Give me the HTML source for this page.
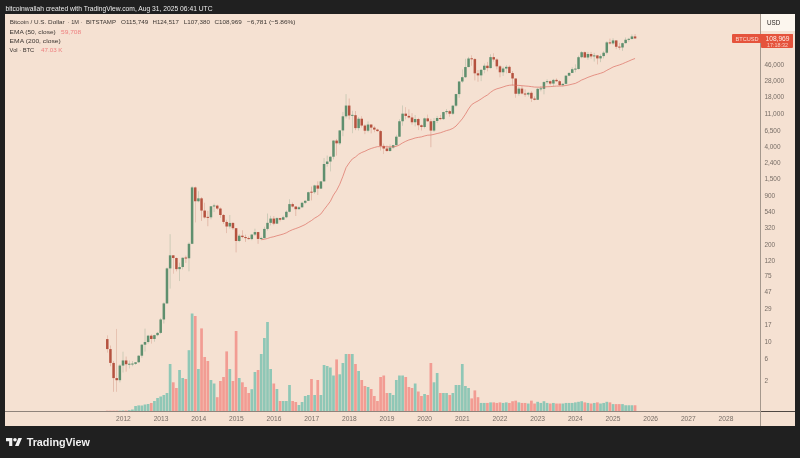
<!DOCTYPE html>
<html><head><meta charset="utf-8"><title>Bitcoin / U.S. Dollar</title>
<style>
html,body{margin:0;padding:0}
body{width:800px;height:458px;background:#202020;position:relative;overflow:hidden;font-family:"Liberation Sans",sans-serif}
#chart{position:absolute;left:5.3px;top:14.2px;width:789.4px;height:412.3px;background:#f5e1d2;overflow:hidden}
#vax{position:absolute;left:755.2px;top:0;width:1px;height:412px;background:#a5988d}
#hax{position:absolute;left:0;top:397.0px;width:790px;height:1px;background:#8f837b}
#hax2{position:absolute;left:755.2px;top:397.0px;width:35px;height:1px;background:#4f4742}
#usd{position:absolute;left:756.2px;top:0;width:34px;height:17px;background:#fcf6ee}
#lab{position:absolute;left:726.7px;top:20.1px;width:61px;height:8.4px;background:#e5533c;border-radius:1px}
#lab2{position:absolute;left:755.7px;top:20.1px;width:32px;height:14px;background:#e5533c;border-radius:0 1px 1px 1px}
svg{position:absolute;left:0;top:0;font-family:"Liberation Sans",sans-serif}
</style></head><body>
<div id="chart">
<div id="hax"></div><div id="hax2"></div><div id="vax"></div>
<div id="usd"></div>
<div id="lab"></div><div id="lab2"></div>
</div>
<svg width="800" height="458" viewBox="0 0 800 458">
<g id="series">
<rect x="105.94" y="410.70" width="2.7" height="0.30" fill="#f29c93"/>
<rect x="109.08" y="410.70" width="2.7" height="0.30" fill="#f29c93"/>
<rect x="112.23" y="410.70" width="2.7" height="0.30" fill="#f29c93"/>
<rect x="115.37" y="410.70" width="2.7" height="0.30" fill="#f29c93"/>
<rect x="118.51" y="410.70" width="2.7" height="0.30" fill="#8fc7b6"/>
<rect x="121.65" y="410.50" width="2.7" height="0.50" fill="#8fc7b6"/>
<rect x="124.79" y="410.50" width="2.7" height="0.50" fill="#f29c93"/>
<rect x="127.93" y="410.20" width="2.7" height="0.80" fill="#8fc7b6"/>
<rect x="131.07" y="409.50" width="2.7" height="1.50" fill="#8fc7b6"/>
<rect x="134.22" y="406.00" width="2.7" height="5.00" fill="#8fc7b6"/>
<rect x="137.36" y="405.40" width="2.7" height="5.60" fill="#8fc7b6"/>
<rect x="140.50" y="405.50" width="2.7" height="5.50" fill="#8fc7b6"/>
<rect x="143.64" y="404.50" width="2.7" height="6.50" fill="#8fc7b6"/>
<rect x="146.78" y="404.00" width="2.7" height="7.00" fill="#8fc7b6"/>
<rect x="149.92" y="403.00" width="2.7" height="8.00" fill="#f29c93"/>
<rect x="153.06" y="401.00" width="2.7" height="10.00" fill="#8fc7b6"/>
<rect x="156.21" y="398.00" width="2.7" height="13.00" fill="#8fc7b6"/>
<rect x="159.35" y="396.50" width="2.7" height="14.50" fill="#8fc7b6"/>
<rect x="162.49" y="395.00" width="2.7" height="16.00" fill="#8fc7b6"/>
<rect x="165.63" y="393.00" width="2.7" height="18.00" fill="#8fc7b6"/>
<rect x="168.77" y="364.00" width="2.7" height="47.00" fill="#8fc7b6"/>
<rect x="171.91" y="382.30" width="2.7" height="28.70" fill="#f29c93"/>
<rect x="175.06" y="388.00" width="2.7" height="23.00" fill="#f29c93"/>
<rect x="178.20" y="370.00" width="2.7" height="41.00" fill="#8fc7b6"/>
<rect x="181.34" y="378.00" width="2.7" height="33.00" fill="#8fc7b6"/>
<rect x="184.48" y="379.00" width="2.7" height="32.00" fill="#f29c93"/>
<rect x="187.62" y="350.20" width="2.7" height="60.80" fill="#8fc7b6"/>
<rect x="190.76" y="313.50" width="2.7" height="97.50" fill="#8fc7b6"/>
<rect x="193.90" y="316.00" width="2.7" height="95.00" fill="#f29c93"/>
<rect x="197.05" y="369.00" width="2.7" height="42.00" fill="#8fc7b6"/>
<rect x="200.19" y="328.40" width="2.7" height="82.60" fill="#f29c93"/>
<rect x="203.33" y="357.00" width="2.7" height="54.00" fill="#f29c93"/>
<rect x="206.47" y="361.00" width="2.7" height="50.00" fill="#f29c93"/>
<rect x="209.61" y="380.00" width="2.7" height="31.00" fill="#8fc7b6"/>
<rect x="212.75" y="383.50" width="2.7" height="27.50" fill="#8fc7b6"/>
<rect x="215.90" y="397.20" width="2.7" height="13.80" fill="#f29c93"/>
<rect x="219.04" y="381.00" width="2.7" height="30.00" fill="#f29c93"/>
<rect x="222.18" y="377.00" width="2.7" height="34.00" fill="#f29c93"/>
<rect x="225.32" y="351.40" width="2.7" height="59.60" fill="#f29c93"/>
<rect x="228.46" y="369.00" width="2.7" height="42.00" fill="#8fc7b6"/>
<rect x="231.60" y="381.00" width="2.7" height="30.00" fill="#f29c93"/>
<rect x="234.74" y="331.00" width="2.7" height="80.00" fill="#f29c93"/>
<rect x="237.89" y="378.00" width="2.7" height="33.00" fill="#8fc7b6"/>
<rect x="241.03" y="382.30" width="2.7" height="28.70" fill="#f29c93"/>
<rect x="244.17" y="387.00" width="2.7" height="24.00" fill="#f29c93"/>
<rect x="247.31" y="393.00" width="2.7" height="18.00" fill="#f29c93"/>
<rect x="250.45" y="389.20" width="2.7" height="21.80" fill="#8fc7b6"/>
<rect x="253.59" y="372.00" width="2.7" height="39.00" fill="#8fc7b6"/>
<rect x="256.73" y="370.00" width="2.7" height="41.00" fill="#f29c93"/>
<rect x="259.88" y="354.00" width="2.7" height="57.00" fill="#8fc7b6"/>
<rect x="263.02" y="338.00" width="2.7" height="73.00" fill="#8fc7b6"/>
<rect x="266.16" y="322.00" width="2.7" height="89.00" fill="#8fc7b6"/>
<rect x="269.30" y="369.00" width="2.7" height="42.00" fill="#8fc7b6"/>
<rect x="272.44" y="383.50" width="2.7" height="27.50" fill="#f29c93"/>
<rect x="275.58" y="389.00" width="2.7" height="22.00" fill="#8fc7b6"/>
<rect x="278.73" y="401.00" width="2.7" height="10.00" fill="#f29c93"/>
<rect x="281.87" y="401.00" width="2.7" height="10.00" fill="#8fc7b6"/>
<rect x="285.01" y="401.00" width="2.7" height="10.00" fill="#8fc7b6"/>
<rect x="288.15" y="385.00" width="2.7" height="26.00" fill="#8fc7b6"/>
<rect x="291.29" y="401.00" width="2.7" height="10.00" fill="#f29c93"/>
<rect x="294.43" y="402.00" width="2.7" height="9.00" fill="#f29c93"/>
<rect x="297.57" y="405.00" width="2.7" height="6.00" fill="#8fc7b6"/>
<rect x="300.72" y="402.00" width="2.7" height="9.00" fill="#8fc7b6"/>
<rect x="303.86" y="396.00" width="2.7" height="15.00" fill="#8fc7b6"/>
<rect x="307.00" y="395.00" width="2.7" height="16.00" fill="#8fc7b6"/>
<rect x="310.14" y="379.00" width="2.7" height="32.00" fill="#f29c93"/>
<rect x="313.28" y="395.00" width="2.7" height="16.00" fill="#8fc7b6"/>
<rect x="316.42" y="380.00" width="2.7" height="31.00" fill="#f29c93"/>
<rect x="319.56" y="395.00" width="2.7" height="16.00" fill="#8fc7b6"/>
<rect x="322.71" y="365.00" width="2.7" height="46.00" fill="#8fc7b6"/>
<rect x="325.85" y="366.00" width="2.7" height="45.00" fill="#8fc7b6"/>
<rect x="328.99" y="367.50" width="2.7" height="43.50" fill="#8fc7b6"/>
<rect x="332.13" y="375.50" width="2.7" height="35.50" fill="#8fc7b6"/>
<rect x="335.27" y="359.40" width="2.7" height="51.60" fill="#f29c93"/>
<rect x="338.41" y="374.30" width="2.7" height="36.70" fill="#8fc7b6"/>
<rect x="341.55" y="363.00" width="2.7" height="48.00" fill="#8fc7b6"/>
<rect x="344.70" y="354.00" width="2.7" height="57.00" fill="#8fc7b6"/>
<rect x="347.84" y="354.00" width="2.7" height="57.00" fill="#f29c93"/>
<rect x="350.98" y="354.00" width="2.7" height="57.00" fill="#8fc7b6"/>
<rect x="354.12" y="364.00" width="2.7" height="47.00" fill="#f29c93"/>
<rect x="357.26" y="371.00" width="2.7" height="40.00" fill="#8fc7b6"/>
<rect x="360.40" y="380.00" width="2.7" height="31.00" fill="#f29c93"/>
<rect x="363.55" y="386.00" width="2.7" height="25.00" fill="#f29c93"/>
<rect x="366.69" y="387.00" width="2.7" height="24.00" fill="#8fc7b6"/>
<rect x="369.83" y="389.00" width="2.7" height="22.00" fill="#f29c93"/>
<rect x="372.97" y="396.00" width="2.7" height="15.00" fill="#f29c93"/>
<rect x="376.11" y="401.00" width="2.7" height="10.00" fill="#f29c93"/>
<rect x="379.25" y="377.00" width="2.7" height="34.00" fill="#f29c93"/>
<rect x="382.39" y="375.50" width="2.7" height="35.50" fill="#f29c93"/>
<rect x="385.54" y="393.00" width="2.7" height="18.00" fill="#f29c93"/>
<rect x="388.68" y="393.00" width="2.7" height="18.00" fill="#8fc7b6"/>
<rect x="391.82" y="395.00" width="2.7" height="16.00" fill="#8fc7b6"/>
<rect x="394.96" y="380.00" width="2.7" height="31.00" fill="#8fc7b6"/>
<rect x="398.10" y="375.50" width="2.7" height="35.50" fill="#8fc7b6"/>
<rect x="401.24" y="375.50" width="2.7" height="35.50" fill="#8fc7b6"/>
<rect x="404.38" y="377.00" width="2.7" height="34.00" fill="#f29c93"/>
<rect x="407.53" y="387.00" width="2.7" height="24.00" fill="#f29c93"/>
<rect x="410.67" y="388.00" width="2.7" height="23.00" fill="#f29c93"/>
<rect x="413.81" y="383.50" width="2.7" height="27.50" fill="#8fc7b6"/>
<rect x="416.95" y="391.50" width="2.7" height="19.50" fill="#f29c93"/>
<rect x="420.09" y="396.00" width="2.7" height="15.00" fill="#f29c93"/>
<rect x="423.23" y="394.00" width="2.7" height="17.00" fill="#8fc7b6"/>
<rect x="426.38" y="395.00" width="2.7" height="16.00" fill="#f29c93"/>
<rect x="429.52" y="363.00" width="2.7" height="48.00" fill="#f29c93"/>
<rect x="432.66" y="382.30" width="2.7" height="28.70" fill="#8fc7b6"/>
<rect x="435.80" y="373.00" width="2.7" height="38.00" fill="#8fc7b6"/>
<rect x="438.94" y="393.00" width="2.7" height="18.00" fill="#f29c93"/>
<rect x="442.08" y="393.00" width="2.7" height="18.00" fill="#8fc7b6"/>
<rect x="445.22" y="393.00" width="2.7" height="18.00" fill="#8fc7b6"/>
<rect x="448.37" y="395.00" width="2.7" height="16.00" fill="#f29c93"/>
<rect x="451.51" y="393.00" width="2.7" height="18.00" fill="#8fc7b6"/>
<rect x="454.65" y="385.00" width="2.7" height="26.00" fill="#8fc7b6"/>
<rect x="457.79" y="385.00" width="2.7" height="26.00" fill="#8fc7b6"/>
<rect x="460.93" y="364.00" width="2.7" height="47.00" fill="#8fc7b6"/>
<rect x="464.07" y="386.00" width="2.7" height="25.00" fill="#8fc7b6"/>
<rect x="467.21" y="388.00" width="2.7" height="23.00" fill="#8fc7b6"/>
<rect x="470.36" y="398.40" width="2.7" height="12.60" fill="#f29c93"/>
<rect x="473.50" y="390.40" width="2.7" height="20.60" fill="#f29c93"/>
<rect x="476.64" y="397.20" width="2.7" height="13.80" fill="#f29c93"/>
<rect x="479.78" y="402.95" width="2.7" height="8.05" fill="#8fc7b6"/>
<rect x="482.92" y="402.95" width="2.7" height="8.05" fill="#8fc7b6"/>
<rect x="486.06" y="402.95" width="2.7" height="8.05" fill="#f29c93"/>
<rect x="489.21" y="402.38" width="2.7" height="8.62" fill="#8fc7b6"/>
<rect x="492.35" y="402.38" width="2.7" height="8.62" fill="#f29c93"/>
<rect x="495.49" y="402.95" width="2.7" height="8.05" fill="#f29c93"/>
<rect x="498.63" y="402.38" width="2.7" height="8.62" fill="#f29c93"/>
<rect x="501.77" y="402.95" width="2.7" height="8.05" fill="#8fc7b6"/>
<rect x="504.91" y="402.38" width="2.7" height="8.62" fill="#8fc7b6"/>
<rect x="508.05" y="402.95" width="2.7" height="8.05" fill="#f29c93"/>
<rect x="511.20" y="401.23" width="2.7" height="9.77" fill="#f29c93"/>
<rect x="514.34" y="400.65" width="2.7" height="10.35" fill="#f29c93"/>
<rect x="517.48" y="402.38" width="2.7" height="8.62" fill="#8fc7b6"/>
<rect x="520.62" y="402.95" width="2.7" height="8.05" fill="#f29c93"/>
<rect x="523.76" y="402.95" width="2.7" height="8.05" fill="#f29c93"/>
<rect x="526.90" y="403.52" width="2.7" height="7.47" fill="#8fc7b6"/>
<rect x="530.04" y="400.65" width="2.7" height="10.35" fill="#f29c93"/>
<rect x="533.19" y="403.52" width="2.7" height="7.47" fill="#f29c93"/>
<rect x="536.33" y="401.80" width="2.7" height="9.20" fill="#8fc7b6"/>
<rect x="539.47" y="402.95" width="2.7" height="8.05" fill="#8fc7b6"/>
<rect x="542.61" y="401.23" width="2.7" height="9.77" fill="#8fc7b6"/>
<rect x="545.75" y="402.95" width="2.7" height="8.05" fill="#8fc7b6"/>
<rect x="548.89" y="403.52" width="2.7" height="7.47" fill="#f29c93"/>
<rect x="552.04" y="402.95" width="2.7" height="8.05" fill="#8fc7b6"/>
<rect x="555.18" y="403.52" width="2.7" height="7.47" fill="#f29c93"/>
<rect x="558.32" y="403.52" width="2.7" height="7.47" fill="#f29c93"/>
<rect x="561.46" y="403.52" width="2.7" height="7.47" fill="#8fc7b6"/>
<rect x="564.60" y="402.95" width="2.7" height="8.05" fill="#8fc7b6"/>
<rect x="567.74" y="402.95" width="2.7" height="8.05" fill="#8fc7b6"/>
<rect x="570.88" y="402.95" width="2.7" height="8.05" fill="#8fc7b6"/>
<rect x="574.03" y="402.38" width="2.7" height="8.62" fill="#8fc7b6"/>
<rect x="577.17" y="401.80" width="2.7" height="9.20" fill="#8fc7b6"/>
<rect x="580.31" y="401.23" width="2.7" height="9.77" fill="#8fc7b6"/>
<rect x="583.45" y="402.38" width="2.7" height="8.62" fill="#f29c93"/>
<rect x="586.59" y="402.95" width="2.7" height="8.05" fill="#8fc7b6"/>
<rect x="589.73" y="403.52" width="2.7" height="7.47" fill="#f29c93"/>
<rect x="592.88" y="402.95" width="2.7" height="8.05" fill="#8fc7b6"/>
<rect x="596.02" y="402.38" width="2.7" height="8.62" fill="#f29c93"/>
<rect x="599.16" y="403.52" width="2.7" height="7.47" fill="#8fc7b6"/>
<rect x="602.30" y="402.95" width="2.7" height="8.05" fill="#8fc7b6"/>
<rect x="605.44" y="401.80" width="2.7" height="9.20" fill="#8fc7b6"/>
<rect x="608.58" y="402.38" width="2.7" height="8.62" fill="#f29c93"/>
<rect x="611.72" y="404.10" width="2.7" height="6.90" fill="#8fc7b6"/>
<rect x="614.87" y="404.10" width="2.7" height="6.90" fill="#f29c93"/>
<rect x="618.01" y="404.10" width="2.7" height="6.90" fill="#f29c93"/>
<rect x="621.15" y="404.10" width="2.7" height="6.90" fill="#8fc7b6"/>
<rect x="624.29" y="405.25" width="2.7" height="5.75" fill="#8fc7b6"/>
<rect x="627.43" y="405.25" width="2.7" height="5.75" fill="#8fc7b6"/>
<rect x="630.57" y="405.25" width="2.7" height="5.75" fill="#8fc7b6"/>
<rect x="633.71" y="405.25" width="2.7" height="5.75" fill="#f29c93"/>
<line x1="107.29" x2="107.29" y1="335.34" y2="352.61" stroke="#b5523f" stroke-width="0.5" opacity="0.55"/>
<rect x="106.04" y="339.10" width="2.5" height="9.98" fill="#b5523f"/>
<line x1="110.43" x2="110.43" y1="345.53" y2="366.27" stroke="#b5523f" stroke-width="0.5" opacity="0.55"/>
<rect x="109.18" y="349.09" width="2.5" height="13.83" fill="#b5523f"/>
<line x1="113.58" x2="113.58" y1="361.06" y2="391.80" stroke="#b5523f" stroke-width="0.5" opacity="0.55"/>
<rect x="112.33" y="362.92" width="2.5" height="15.17" fill="#b5523f"/>
<line x1="116.72" x2="116.72" y1="328.90" y2="391.80" stroke="#b5523f" stroke-width="0.5" opacity="0.55"/>
<rect x="115.47" y="378.09" width="2.5" height="2.10" fill="#b5523f"/>
<line x1="119.86" x2="119.86" y1="364.22" y2="382.43" stroke="#5f8f6e" stroke-width="0.5" opacity="0.55"/>
<rect x="118.61" y="365.57" width="2.5" height="14.61" fill="#5f8f6e"/>
<line x1="123.00" x2="123.00" y1="351.69" y2="372.49" stroke="#5f8f6e" stroke-width="0.5" opacity="0.55"/>
<rect x="121.75" y="360.46" width="2.5" height="5.12" fill="#5f8f6e"/>
<line x1="126.14" x2="126.14" y1="356.56" y2="371.65" stroke="#b5523f" stroke-width="0.5" opacity="0.55"/>
<rect x="124.89" y="360.46" width="2.5" height="3.76" fill="#b5523f"/>
<line x1="129.28" x2="129.28" y1="360.46" y2="368.47" stroke="#5f8f6e" stroke-width="0.5" opacity="0.55"/>
<rect x="128.03" y="363.72" width="2.5" height="1.00" fill="#5f8f6e"/>
<line x1="132.42" x2="132.42" y1="361.06" y2="366.27" stroke="#5f8f6e" stroke-width="0.5" opacity="0.55"/>
<rect x="131.17" y="363.55" width="2.5" height="1.00" fill="#5f8f6e"/>
<line x1="135.57" x2="135.57" y1="362.28" y2="364.89" stroke="#5f8f6e" stroke-width="0.5" opacity="0.55"/>
<rect x="134.32" y="362.28" width="2.5" height="1.60" fill="#5f8f6e"/>
<line x1="138.71" x2="138.71" y1="355.22" y2="362.92" stroke="#5f8f6e" stroke-width="0.5" opacity="0.55"/>
<rect x="137.46" y="355.70" width="2.5" height="6.58" fill="#5f8f6e"/>
<line x1="141.85" x2="141.85" y1="344.00" y2="357.71" stroke="#5f8f6e" stroke-width="0.5" opacity="0.55"/>
<rect x="140.60" y="344.68" width="2.5" height="11.02" fill="#5f8f6e"/>
<line x1="144.99" x2="144.99" y1="328.61" y2="351.60" stroke="#5f8f6e" stroke-width="0.5" opacity="0.55"/>
<rect x="143.74" y="342.02" width="2.5" height="2.66" fill="#5f8f6e"/>
<line x1="148.13" x2="148.13" y1="334.89" y2="343.66" stroke="#5f8f6e" stroke-width="0.5" opacity="0.55"/>
<rect x="146.88" y="335.67" width="2.5" height="6.36" fill="#5f8f6e"/>
<line x1="151.27" x2="151.27" y1="334.38" y2="343.66" stroke="#b5523f" stroke-width="0.5" opacity="0.55"/>
<rect x="150.02" y="335.67" width="2.5" height="3.31" fill="#b5523f"/>
<line x1="154.41" x2="154.41" y1="334.63" y2="341.71" stroke="#5f8f6e" stroke-width="0.5" opacity="0.55"/>
<rect x="153.16" y="335.15" width="2.5" height="3.83" fill="#5f8f6e"/>
<line x1="157.56" x2="157.56" y1="331.95" y2="336.20" stroke="#5f8f6e" stroke-width="0.5" opacity="0.55"/>
<rect x="156.31" y="332.90" width="2.5" height="2.25" fill="#5f8f6e"/>
<line x1="160.70" x2="160.70" y1="317.90" y2="334.13" stroke="#5f8f6e" stroke-width="0.5" opacity="0.55"/>
<rect x="159.45" y="319.46" width="2.5" height="13.44" fill="#5f8f6e"/>
<line x1="163.84" x2="163.84" y1="302.36" y2="323.54" stroke="#5f8f6e" stroke-width="0.5" opacity="0.55"/>
<rect x="162.59" y="303.41" width="2.5" height="16.05" fill="#5f8f6e"/>
<line x1="166.98" x2="166.98" y1="267.48" y2="303.90" stroke="#5f8f6e" stroke-width="0.5" opacity="0.55"/>
<rect x="165.73" y="268.41" width="2.5" height="35.00" fill="#5f8f6e"/>
<line x1="170.12" x2="170.12" y1="234.20" y2="288.61" stroke="#5f8f6e" stroke-width="0.5" opacity="0.55"/>
<rect x="168.87" y="255.33" width="2.5" height="13.08" fill="#5f8f6e"/>
<line x1="173.26" x2="173.26" y1="255.10" y2="273.72" stroke="#b5523f" stroke-width="0.5" opacity="0.55"/>
<rect x="172.01" y="255.33" width="2.5" height="2.68" fill="#b5523f"/>
<line x1="176.41" x2="176.41" y1="257.51" y2="271.34" stroke="#b5523f" stroke-width="0.5" opacity="0.55"/>
<rect x="175.16" y="258.01" width="2.5" height="11.11" fill="#b5523f"/>
<line x1="179.55" x2="179.55" y1="262.65" y2="281.09" stroke="#5f8f6e" stroke-width="0.5" opacity="0.55"/>
<rect x="178.30" y="267.04" width="2.5" height="2.08" fill="#5f8f6e"/>
<line x1="182.69" x2="182.69" y1="257.51" y2="269.48" stroke="#5f8f6e" stroke-width="0.5" opacity="0.55"/>
<rect x="181.44" y="257.76" width="2.5" height="9.28" fill="#5f8f6e"/>
<line x1="185.83" x2="185.83" y1="255.57" y2="262.95" stroke="#b5523f" stroke-width="0.5" opacity="0.55"/>
<rect x="184.58" y="257.51" width="2.5" height="1.00" fill="#b5523f"/>
<line x1="188.97" x2="188.97" y1="242.37" y2="271.34" stroke="#5f8f6e" stroke-width="0.5" opacity="0.55"/>
<rect x="187.72" y="243.81" width="2.5" height="14.45" fill="#5f8f6e"/>
<line x1="192.11" x2="192.11" y1="186.18" y2="244.14" stroke="#5f8f6e" stroke-width="0.5" opacity="0.55"/>
<rect x="190.86" y="187.41" width="2.5" height="56.40" fill="#5f8f6e"/>
<line x1="195.25" x2="195.25" y1="186.47" y2="222.42" stroke="#b5523f" stroke-width="0.5" opacity="0.55"/>
<rect x="194.00" y="187.41" width="2.5" height="13.84" fill="#b5523f"/>
<line x1="198.40" x2="198.40" y1="191.26" y2="202.25" stroke="#5f8f6e" stroke-width="0.5" opacity="0.55"/>
<rect x="197.15" y="198.36" width="2.5" height="2.89" fill="#5f8f6e"/>
<line x1="201.54" x2="201.54" y1="197.17" y2="220.93" stroke="#b5523f" stroke-width="0.5" opacity="0.55"/>
<rect x="200.29" y="198.36" width="2.5" height="12.20" fill="#b5523f"/>
<line x1="204.68" x2="204.68" y1="202.71" y2="218.57" stroke="#b5523f" stroke-width="0.5" opacity="0.55"/>
<rect x="203.43" y="210.56" width="2.5" height="6.90" fill="#b5523f"/>
<line x1="207.82" x2="207.82" y1="210.86" y2="226.22" stroke="#b5523f" stroke-width="0.5" opacity="0.55"/>
<rect x="206.57" y="216.88" width="2.5" height="1.00" fill="#b5523f"/>
<line x1="210.96" x2="210.96" y1="206.19" y2="219.34" stroke="#5f8f6e" stroke-width="0.5" opacity="0.55"/>
<rect x="209.71" y="206.29" width="2.5" height="11.01" fill="#5f8f6e"/>
<line x1="214.10" x2="214.10" y1="203.65" y2="212.07" stroke="#5f8f6e" stroke-width="0.5" opacity="0.55"/>
<rect x="212.85" y="205.46" width="2.5" height="1.00" fill="#5f8f6e"/>
<line x1="217.25" x2="217.25" y1="204.63" y2="209.97" stroke="#b5523f" stroke-width="0.5" opacity="0.55"/>
<rect x="216.00" y="205.63" width="2.5" height="2.92" fill="#b5523f"/>
<line x1="220.39" x2="220.39" y1="207.46" y2="217.82" stroke="#b5523f" stroke-width="0.5" opacity="0.55"/>
<rect x="219.14" y="208.55" width="2.5" height="6.44" fill="#b5523f"/>
<line x1="223.53" x2="223.53" y1="213.99" y2="223.91" stroke="#b5523f" stroke-width="0.5" opacity="0.55"/>
<rect x="222.28" y="214.99" width="2.5" height="6.93" fill="#b5523f"/>
<line x1="226.67" x2="226.67" y1="219.73" y2="233.12" stroke="#b5523f" stroke-width="0.5" opacity="0.55"/>
<rect x="225.42" y="221.92" width="2.5" height="4.59" fill="#b5523f"/>
<line x1="229.81" x2="229.81" y1="214.99" y2="228.60" stroke="#5f8f6e" stroke-width="0.5" opacity="0.55"/>
<rect x="228.56" y="222.94" width="2.5" height="3.56" fill="#5f8f6e"/>
<line x1="232.95" x2="232.95" y1="222.17" y2="229.86" stroke="#b5523f" stroke-width="0.5" opacity="0.55"/>
<rect x="231.70" y="222.94" width="2.5" height="5.25" fill="#b5523f"/>
<line x1="236.09" x2="236.09" y1="227.99" y2="252.42" stroke="#b5523f" stroke-width="0.5" opacity="0.55"/>
<rect x="234.84" y="228.19" width="2.5" height="12.79" fill="#b5523f"/>
<line x1="239.24" x2="239.24" y1="233.96" y2="242.21" stroke="#5f8f6e" stroke-width="0.5" opacity="0.55"/>
<rect x="237.99" y="235.71" width="2.5" height="5.27" fill="#5f8f6e"/>
<line x1="242.38" x2="242.38" y1="230.29" y2="238.24" stroke="#b5523f" stroke-width="0.5" opacity="0.55"/>
<rect x="241.13" y="235.71" width="2.5" height="1.31" fill="#b5523f"/>
<line x1="245.52" x2="245.52" y1="234.70" y2="241.90" stroke="#b5523f" stroke-width="0.5" opacity="0.55"/>
<rect x="244.27" y="237.01" width="2.5" height="1.09" fill="#b5523f"/>
<line x1="248.66" x2="248.66" y1="236.49" y2="239.51" stroke="#b5523f" stroke-width="0.5" opacity="0.55"/>
<rect x="247.41" y="238.09" width="2.5" height="1.00" fill="#b5523f"/>
<line x1="251.80" x2="251.80" y1="233.96" y2="240.24" stroke="#5f8f6e" stroke-width="0.5" opacity="0.55"/>
<rect x="250.55" y="234.57" width="2.5" height="4.51" fill="#5f8f6e"/>
<line x1="254.94" x2="254.94" y1="228.70" y2="235.96" stroke="#5f8f6e" stroke-width="0.5" opacity="0.55"/>
<rect x="253.69" y="232.07" width="2.5" height="2.50" fill="#5f8f6e"/>
<line x1="258.08" x2="258.08" y1="231.84" y2="243.81" stroke="#b5523f" stroke-width="0.5" opacity="0.55"/>
<rect x="256.83" y="232.07" width="2.5" height="6.86" fill="#b5523f"/>
<line x1="261.23" x2="261.23" y1="236.62" y2="239.80" stroke="#5f8f6e" stroke-width="0.5" opacity="0.55"/>
<rect x="259.98" y="238.02" width="2.5" height="1.00" fill="#5f8f6e"/>
<line x1="264.37" x2="264.37" y1="226.70" y2="238.38" stroke="#5f8f6e" stroke-width="0.5" opacity="0.55"/>
<rect x="263.12" y="228.91" width="2.5" height="9.19" fill="#5f8f6e"/>
<line x1="267.51" x2="267.51" y1="213.53" y2="230.51" stroke="#5f8f6e" stroke-width="0.5" opacity="0.55"/>
<rect x="266.26" y="222.85" width="2.5" height="6.06" fill="#5f8f6e"/>
<line x1="270.65" x2="270.65" y1="215.81" y2="225.46" stroke="#5f8f6e" stroke-width="0.5" opacity="0.55"/>
<rect x="269.40" y="218.57" width="2.5" height="4.28" fill="#5f8f6e"/>
<line x1="273.79" x2="273.79" y1="216.09" y2="225.27" stroke="#b5523f" stroke-width="0.5" opacity="0.55"/>
<rect x="272.54" y="218.57" width="2.5" height="5.07" fill="#b5523f"/>
<line x1="276.93" x2="276.93" y1="217.24" y2="223.91" stroke="#5f8f6e" stroke-width="0.5" opacity="0.55"/>
<rect x="275.68" y="218.12" width="2.5" height="5.52" fill="#5f8f6e"/>
<line x1="280.08" x2="280.08" y1="217.82" y2="221.50" stroke="#b5523f" stroke-width="0.5" opacity="0.55"/>
<rect x="278.83" y="218.12" width="2.5" height="1.61" fill="#b5523f"/>
<line x1="283.22" x2="283.22" y1="215.68" y2="219.88" stroke="#5f8f6e" stroke-width="0.5" opacity="0.55"/>
<rect x="281.97" y="217.24" width="2.5" height="2.49" fill="#5f8f6e"/>
<line x1="286.36" x2="286.36" y1="210.38" y2="218.19" stroke="#5f8f6e" stroke-width="0.5" opacity="0.55"/>
<rect x="285.11" y="211.77" width="2.5" height="5.47" fill="#5f8f6e"/>
<line x1="289.50" x2="289.50" y1="199.27" y2="212.39" stroke="#5f8f6e" stroke-width="0.5" opacity="0.55"/>
<rect x="288.25" y="204.09" width="2.5" height="7.68" fill="#5f8f6e"/>
<line x1="292.64" x2="292.64" y1="202.48" y2="207.46" stroke="#b5523f" stroke-width="0.5" opacity="0.55"/>
<rect x="291.39" y="204.09" width="2.5" height="2.47" fill="#b5523f"/>
<line x1="295.78" x2="295.78" y1="206.24" y2="216.02" stroke="#b5523f" stroke-width="0.5" opacity="0.55"/>
<rect x="294.53" y="206.56" width="2.5" height="2.61" fill="#b5523f"/>
<line x1="298.92" x2="298.92" y1="206.14" y2="209.51" stroke="#5f8f6e" stroke-width="0.5" opacity="0.55"/>
<rect x="297.67" y="207.30" width="2.5" height="1.87" fill="#5f8f6e"/>
<line x1="302.07" x2="302.07" y1="201.79" y2="207.73" stroke="#5f8f6e" stroke-width="0.5" opacity="0.55"/>
<rect x="300.82" y="202.80" width="2.5" height="4.49" fill="#5f8f6e"/>
<line x1="305.21" x2="305.21" y1="200.25" y2="204.14" stroke="#5f8f6e" stroke-width="0.5" opacity="0.55"/>
<rect x="303.96" y="200.81" width="2.5" height="1.99" fill="#5f8f6e"/>
<line x1="308.35" x2="308.35" y1="191.69" y2="200.90" stroke="#5f8f6e" stroke-width="0.5" opacity="0.55"/>
<rect x="307.10" y="192.23" width="2.5" height="8.59" fill="#5f8f6e"/>
<line x1="311.49" x2="311.49" y1="186.55" y2="200.42" stroke="#b5523f" stroke-width="0.5" opacity="0.55"/>
<rect x="310.24" y="191.69" width="2.5" height="1.00" fill="#b5523f"/>
<line x1="314.63" x2="314.63" y1="184.71" y2="193.81" stroke="#5f8f6e" stroke-width="0.5" opacity="0.55"/>
<rect x="313.38" y="185.44" width="2.5" height="6.79" fill="#5f8f6e"/>
<line x1="317.77" x2="317.77" y1="181.33" y2="194.97" stroke="#b5523f" stroke-width="0.5" opacity="0.55"/>
<rect x="316.52" y="185.44" width="2.5" height="3.19" fill="#b5523f"/>
<line x1="320.91" x2="320.91" y1="181.09" y2="188.75" stroke="#5f8f6e" stroke-width="0.5" opacity="0.55"/>
<rect x="319.66" y="181.38" width="2.5" height="7.25" fill="#5f8f6e"/>
<line x1="324.06" x2="324.06" y1="158.05" y2="181.57" stroke="#5f8f6e" stroke-width="0.5" opacity="0.55"/>
<rect x="322.81" y="163.99" width="2.5" height="17.39" fill="#5f8f6e"/>
<line x1="327.20" x2="327.20" y1="155.56" y2="166.64" stroke="#5f8f6e" stroke-width="0.5" opacity="0.55"/>
<rect x="325.95" y="161.54" width="2.5" height="2.45" fill="#5f8f6e"/>
<line x1="330.34" x2="330.34" y1="156.11" y2="171.43" stroke="#5f8f6e" stroke-width="0.5" opacity="0.55"/>
<rect x="329.09" y="156.73" width="2.5" height="4.81" fill="#5f8f6e"/>
<line x1="333.48" x2="333.48" y1="140.28" y2="159.38" stroke="#5f8f6e" stroke-width="0.5" opacity="0.55"/>
<rect x="332.23" y="140.59" width="2.5" height="16.14" fill="#5f8f6e"/>
<line x1="336.62" x2="336.62" y1="138.91" y2="155.67" stroke="#b5523f" stroke-width="0.5" opacity="0.55"/>
<rect x="335.37" y="140.59" width="2.5" height="2.73" fill="#b5523f"/>
<line x1="339.76" x2="339.76" y1="130.32" y2="144.94" stroke="#5f8f6e" stroke-width="0.5" opacity="0.55"/>
<rect x="338.51" y="130.42" width="2.5" height="12.90" fill="#5f8f6e"/>
<line x1="342.90" x2="342.90" y1="111.89" y2="136.21" stroke="#5f8f6e" stroke-width="0.5" opacity="0.55"/>
<rect x="341.65" y="116.31" width="2.5" height="14.11" fill="#5f8f6e"/>
<line x1="346.05" x2="346.05" y1="94.14" y2="118.51" stroke="#5f8f6e" stroke-width="0.5" opacity="0.55"/>
<rect x="344.80" y="105.55" width="2.5" height="10.76" fill="#5f8f6e"/>
<line x1="349.19" x2="349.19" y1="98.50" y2="119.58" stroke="#b5523f" stroke-width="0.5" opacity="0.55"/>
<rect x="347.94" y="105.55" width="2.5" height="9.96" fill="#b5523f"/>
<line x1="352.33" x2="352.33" y1="110.76" y2="133.22" stroke="#5f8f6e" stroke-width="0.5" opacity="0.55"/>
<rect x="351.08" y="114.85" width="2.5" height="1.00" fill="#5f8f6e"/>
<line x1="355.47" x2="355.47" y1="111.04" y2="130.17" stroke="#b5523f" stroke-width="0.5" opacity="0.55"/>
<rect x="354.22" y="115.19" width="2.5" height="12.90" fill="#b5523f"/>
<line x1="358.61" x2="358.61" y1="116.97" y2="130.53" stroke="#5f8f6e" stroke-width="0.5" opacity="0.55"/>
<rect x="357.36" y="118.72" width="2.5" height="9.36" fill="#5f8f6e"/>
<line x1="361.75" x2="361.75" y1="116.18" y2="127.58" stroke="#b5523f" stroke-width="0.5" opacity="0.55"/>
<rect x="360.50" y="118.72" width="2.5" height="6.83" fill="#b5523f"/>
<line x1="364.90" x2="364.90" y1="124.32" y2="134.16" stroke="#b5523f" stroke-width="0.5" opacity="0.55"/>
<rect x="363.65" y="125.56" width="2.5" height="5.17" fill="#b5523f"/>
<line x1="368.04" x2="368.04" y1="121.44" y2="132.40" stroke="#5f8f6e" stroke-width="0.5" opacity="0.55"/>
<rect x="366.79" y="124.53" width="2.5" height="6.20" fill="#5f8f6e"/>
<line x1="371.18" x2="371.18" y1="124.45" y2="133.44" stroke="#b5523f" stroke-width="0.5" opacity="0.55"/>
<rect x="369.93" y="124.53" width="2.5" height="3.09" fill="#b5523f"/>
<line x1="374.32" x2="374.32" y1="125.95" y2="132.24" stroke="#b5523f" stroke-width="0.5" opacity="0.55"/>
<rect x="373.07" y="127.62" width="2.5" height="1.96" fill="#b5523f"/>
<line x1="377.46" x2="377.46" y1="128.70" y2="131.71" stroke="#b5523f" stroke-width="0.5" opacity="0.55"/>
<rect x="376.21" y="129.58" width="2.5" height="1.51" fill="#b5523f"/>
<line x1="380.60" x2="380.60" y1="129.92" y2="150.56" stroke="#b5523f" stroke-width="0.5" opacity="0.55"/>
<rect x="379.35" y="131.09" width="2.5" height="14.81" fill="#b5523f"/>
<line x1="383.74" x2="383.74" y1="143.55" y2="154.04" stroke="#b5523f" stroke-width="0.5" opacity="0.55"/>
<rect x="382.49" y="145.89" width="2.5" height="2.62" fill="#b5523f"/>
<line x1="386.89" x2="386.89" y1="145.41" y2="151.85" stroke="#b5523f" stroke-width="0.5" opacity="0.55"/>
<rect x="385.64" y="148.51" width="2.5" height="2.47" fill="#b5523f"/>
<line x1="390.03" x2="390.03" y1="144.39" y2="151.75" stroke="#5f8f6e" stroke-width="0.5" opacity="0.55"/>
<rect x="388.78" y="147.56" width="2.5" height="3.42" fill="#5f8f6e"/>
<line x1="393.17" x2="393.17" y1="144.86" y2="148.78" stroke="#5f8f6e" stroke-width="0.5" opacity="0.55"/>
<rect x="391.92" y="145.17" width="2.5" height="2.39" fill="#5f8f6e"/>
<line x1="396.31" x2="396.31" y1="134.73" y2="145.57" stroke="#5f8f6e" stroke-width="0.5" opacity="0.55"/>
<rect x="395.06" y="136.69" width="2.5" height="8.48" fill="#5f8f6e"/>
<line x1="399.45" x2="399.45" y1="119.26" y2="136.82" stroke="#5f8f6e" stroke-width="0.5" opacity="0.55"/>
<rect x="398.20" y="121.25" width="2.5" height="15.44" fill="#5f8f6e"/>
<line x1="402.59" x2="402.59" y1="105.48" y2="125.82" stroke="#5f8f6e" stroke-width="0.5" opacity="0.55"/>
<rect x="401.34" y="113.65" width="2.5" height="7.60" fill="#5f8f6e"/>
<line x1="405.74" x2="405.74" y1="107.11" y2="119.40" stroke="#b5523f" stroke-width="0.5" opacity="0.55"/>
<rect x="404.49" y="113.65" width="2.5" height="2.25" fill="#b5523f"/>
<line x1="408.88" x2="408.88" y1="109.36" y2="118.44" stroke="#b5523f" stroke-width="0.5" opacity="0.55"/>
<rect x="407.63" y="115.89" width="2.5" height="1.59" fill="#b5523f"/>
<line x1="412.02" x2="412.02" y1="113.20" y2="124.66" stroke="#b5523f" stroke-width="0.5" opacity="0.55"/>
<rect x="410.77" y="117.48" width="2.5" height="4.78" fill="#b5523f"/>
<line x1="415.16" x2="415.16" y1="115.03" y2="126.39" stroke="#5f8f6e" stroke-width="0.5" opacity="0.55"/>
<rect x="413.91" y="119.04" width="2.5" height="3.21" fill="#5f8f6e"/>
<line x1="418.30" x2="418.30" y1="117.82" y2="130.07" stroke="#b5523f" stroke-width="0.5" opacity="0.55"/>
<rect x="417.05" y="119.04" width="2.5" height="6.21" fill="#b5523f"/>
<line x1="421.44" x2="421.44" y1="124.45" y2="130.53" stroke="#b5523f" stroke-width="0.5" opacity="0.55"/>
<rect x="420.19" y="125.26" width="2.5" height="1.72" fill="#b5523f"/>
<line x1="424.58" x2="424.58" y1="117.58" y2="128.47" stroke="#5f8f6e" stroke-width="0.5" opacity="0.55"/>
<rect x="423.33" y="118.37" width="2.5" height="8.61" fill="#5f8f6e"/>
<line x1="427.73" x2="427.73" y1="114.56" y2="121.71" stroke="#b5523f" stroke-width="0.5" opacity="0.55"/>
<rect x="426.48" y="118.37" width="2.5" height="2.91" fill="#b5523f"/>
<line x1="430.87" x2="430.87" y1="118.86" y2="147.22" stroke="#b5523f" stroke-width="0.5" opacity="0.55"/>
<rect x="429.62" y="121.29" width="2.5" height="9.29" fill="#b5523f"/>
<line x1="434.01" x2="434.01" y1="117.96" y2="131.97" stroke="#5f8f6e" stroke-width="0.5" opacity="0.55"/>
<rect x="432.76" y="120.95" width="2.5" height="9.63" fill="#5f8f6e"/>
<line x1="437.15" x2="437.15" y1="115.92" y2="123.01" stroke="#5f8f6e" stroke-width="0.5" opacity="0.55"/>
<rect x="435.90" y="117.99" width="2.5" height="2.95" fill="#5f8f6e"/>
<line x1="440.29" x2="440.29" y1="114.87" y2="120.20" stroke="#b5523f" stroke-width="0.5" opacity="0.55"/>
<rect x="439.04" y="117.99" width="2.5" height="1.10" fill="#b5523f"/>
<line x1="443.43" x2="443.43" y1="111.74" y2="119.94" stroke="#5f8f6e" stroke-width="0.5" opacity="0.55"/>
<rect x="442.18" y="112.06" width="2.5" height="7.04" fill="#5f8f6e"/>
<line x1="446.57" x2="446.57" y1="108.97" y2="114.41" stroke="#5f8f6e" stroke-width="0.5" opacity="0.55"/>
<rect x="445.32" y="111.12" width="2.5" height="1.00" fill="#5f8f6e"/>
<line x1="449.72" x2="449.72" y1="110.00" y2="116.74" stroke="#b5523f" stroke-width="0.5" opacity="0.55"/>
<rect x="448.47" y="111.18" width="2.5" height="2.53" fill="#b5523f"/>
<line x1="452.86" x2="452.86" y1="104.97" y2="114.97" stroke="#5f8f6e" stroke-width="0.5" opacity="0.55"/>
<rect x="451.61" y="105.67" width="2.5" height="8.04" fill="#5f8f6e"/>
<line x1="456.00" x2="456.00" y1="93.80" y2="107.11" stroke="#5f8f6e" stroke-width="0.5" opacity="0.55"/>
<rect x="454.75" y="94.08" width="2.5" height="11.59" fill="#5f8f6e"/>
<line x1="459.14" x2="459.14" y1="81.16" y2="97.81" stroke="#5f8f6e" stroke-width="0.5" opacity="0.55"/>
<rect x="457.89" y="81.51" width="2.5" height="12.58" fill="#5f8f6e"/>
<line x1="462.28" x2="462.28" y1="69.44" y2="82.99" stroke="#5f8f6e" stroke-width="0.5" opacity="0.55"/>
<rect x="461.03" y="77.19" width="2.5" height="4.32" fill="#5f8f6e"/>
<line x1="465.42" x2="465.42" y1="58.74" y2="77.99" stroke="#5f8f6e" stroke-width="0.5" opacity="0.55"/>
<rect x="464.17" y="67.05" width="2.5" height="10.14" fill="#5f8f6e"/>
<line x1="468.56" x2="468.56" y1="56.87" y2="67.19" stroke="#5f8f6e" stroke-width="0.5" opacity="0.55"/>
<rect x="467.31" y="58.49" width="2.5" height="8.56" fill="#5f8f6e"/>
<line x1="471.71" x2="471.71" y1="55.27" y2="65.78" stroke="#b5523f" stroke-width="0.5" opacity="0.55"/>
<rect x="470.46" y="58.29" width="2.5" height="1.00" fill="#b5523f"/>
<line x1="474.85" x2="474.85" y1="58.05" y2="80.39" stroke="#b5523f" stroke-width="0.5" opacity="0.55"/>
<rect x="473.60" y="59.10" width="2.5" height="14.20" fill="#b5523f"/>
<line x1="477.99" x2="477.99" y1="69.96" y2="81.72" stroke="#b5523f" stroke-width="0.5" opacity="0.55"/>
<rect x="476.74" y="73.30" width="2.5" height="2.07" fill="#b5523f"/>
<line x1="481.13" x2="481.13" y1="69.13" y2="81.16" stroke="#5f8f6e" stroke-width="0.5" opacity="0.55"/>
<rect x="479.88" y="69.83" width="2.5" height="5.54" fill="#5f8f6e"/>
<line x1="484.27" x2="484.27" y1="63.44" y2="73.30" stroke="#5f8f6e" stroke-width="0.5" opacity="0.55"/>
<rect x="483.02" y="65.71" width="2.5" height="4.12" fill="#5f8f6e"/>
<line x1="487.41" x2="487.41" y1="61.90" y2="71.35" stroke="#b5523f" stroke-width="0.5" opacity="0.55"/>
<rect x="486.16" y="65.71" width="2.5" height="2.36" fill="#b5523f"/>
<line x1="490.56" x2="490.56" y1="54.24" y2="68.45" stroke="#5f8f6e" stroke-width="0.5" opacity="0.55"/>
<rect x="489.31" y="57.13" width="2.5" height="10.94" fill="#5f8f6e"/>
<line x1="493.70" x2="493.70" y1="53.28" y2="61.68" stroke="#b5523f" stroke-width="0.5" opacity="0.55"/>
<rect x="492.45" y="57.13" width="2.5" height="2.37" fill="#b5523f"/>
<line x1="496.84" x2="496.84" y1="58.32" y2="69.44" stroke="#b5523f" stroke-width="0.5" opacity="0.55"/>
<rect x="495.59" y="59.50" width="2.5" height="6.84" fill="#b5523f"/>
<line x1="499.98" x2="499.98" y1="65.10" y2="77.34" stroke="#b5523f" stroke-width="0.5" opacity="0.55"/>
<rect x="498.73" y="66.34" width="2.5" height="5.93" fill="#b5523f"/>
<line x1="503.12" x2="503.12" y1="66.58" y2="76.03" stroke="#5f8f6e" stroke-width="0.5" opacity="0.55"/>
<rect x="501.87" y="68.52" width="2.5" height="3.75" fill="#5f8f6e"/>
<line x1="506.26" x2="506.26" y1="64.96" y2="73.39" stroke="#5f8f6e" stroke-width="0.5" opacity="0.55"/>
<rect x="505.01" y="66.83" width="2.5" height="1.69" fill="#5f8f6e"/>
<line x1="509.40" x2="509.40" y1="65.47" y2="73.04" stroke="#b5523f" stroke-width="0.5" opacity="0.55"/>
<rect x="508.15" y="66.83" width="2.5" height="6.21" fill="#b5523f"/>
<line x1="512.55" x2="512.55" y1="71.03" y2="85.81" stroke="#b5523f" stroke-width="0.5" opacity="0.55"/>
<rect x="511.30" y="73.04" width="2.5" height="5.45" fill="#b5523f"/>
<line x1="515.69" x2="515.69" y1="78.31" y2="97.75" stroke="#b5523f" stroke-width="0.5" opacity="0.55"/>
<rect x="514.44" y="78.49" width="2.5" height="15.26" fill="#b5523f"/>
<line x1="518.83" x2="518.83" y1="86.76" y2="95.64" stroke="#5f8f6e" stroke-width="0.5" opacity="0.55"/>
<rect x="517.58" y="88.62" width="2.5" height="5.13" fill="#5f8f6e"/>
<line x1="521.97" x2="521.97" y1="86.07" y2="94.38" stroke="#b5523f" stroke-width="0.5" opacity="0.55"/>
<rect x="520.72" y="88.62" width="2.5" height="4.89" fill="#b5523f"/>
<line x1="525.11" x2="525.11" y1="89.35" y2="96.75" stroke="#b5523f" stroke-width="0.5" opacity="0.55"/>
<rect x="523.86" y="93.51" width="2.5" height="1.04" fill="#b5523f"/>
<line x1="528.25" x2="528.25" y1="91.88" y2="96.66" stroke="#5f8f6e" stroke-width="0.5" opacity="0.55"/>
<rect x="527.00" y="92.80" width="2.5" height="1.75" fill="#5f8f6e"/>
<line x1="531.39" x2="531.39" y1="91.27" y2="101.93" stroke="#b5523f" stroke-width="0.5" opacity="0.55"/>
<rect x="530.14" y="92.80" width="2.5" height="5.75" fill="#b5523f"/>
<line x1="534.54" x2="534.54" y1="96.32" y2="100.31" stroke="#b5523f" stroke-width="0.5" opacity="0.55"/>
<rect x="533.29" y="98.56" width="2.5" height="1.22" fill="#b5523f"/>
<line x1="537.68" x2="537.68" y1="87.71" y2="99.85" stroke="#5f8f6e" stroke-width="0.5" opacity="0.55"/>
<rect x="536.43" y="88.86" width="2.5" height="10.92" fill="#5f8f6e"/>
<line x1="540.82" x2="540.82" y1="86.00" y2="91.39" stroke="#5f8f6e" stroke-width="0.5" opacity="0.55"/>
<rect x="539.57" y="88.35" width="2.5" height="1.00" fill="#5f8f6e"/>
<line x1="543.96" x2="543.96" y1="81.28" y2="94.33" stroke="#5f8f6e" stroke-width="0.5" opacity="0.55"/>
<rect x="542.71" y="82.09" width="2.5" height="6.75" fill="#5f8f6e"/>
<line x1="547.10" x2="547.10" y1="79.27" y2="83.82" stroke="#5f8f6e" stroke-width="0.5" opacity="0.55"/>
<rect x="545.85" y="81.17" width="2.5" height="1.00" fill="#5f8f6e"/>
<line x1="550.24" x2="550.24" y1="80.55" y2="85.30" stroke="#b5523f" stroke-width="0.5" opacity="0.55"/>
<rect x="548.99" y="81.24" width="2.5" height="2.33" fill="#b5523f"/>
<line x1="553.39" x2="553.39" y1="78.86" y2="86.65" stroke="#5f8f6e" stroke-width="0.5" opacity="0.55"/>
<rect x="552.14" y="79.89" width="2.5" height="3.68" fill="#5f8f6e"/>
<line x1="556.53" x2="556.53" y1="78.47" y2="81.66" stroke="#b5523f" stroke-width="0.5" opacity="0.55"/>
<rect x="555.28" y="79.89" width="2.5" height="1.35" fill="#b5523f"/>
<line x1="559.67" x2="559.67" y1="80.14" y2="85.94" stroke="#b5523f" stroke-width="0.5" opacity="0.55"/>
<rect x="558.42" y="81.24" width="2.5" height="3.89" fill="#b5523f"/>
<line x1="562.81" x2="562.81" y1="83.22" y2="86.46" stroke="#5f8f6e" stroke-width="0.5" opacity="0.55"/>
<rect x="561.56" y="83.87" width="2.5" height="1.26" fill="#5f8f6e"/>
<line x1="565.95" x2="565.95" y1="75.11" y2="84.38" stroke="#5f8f6e" stroke-width="0.5" opacity="0.55"/>
<rect x="564.70" y="75.70" width="2.5" height="8.17" fill="#5f8f6e"/>
<line x1="569.09" x2="569.09" y1="72.31" y2="76.22" stroke="#5f8f6e" stroke-width="0.5" opacity="0.55"/>
<rect x="567.84" y="72.94" width="2.5" height="2.76" fill="#5f8f6e"/>
<line x1="572.23" x2="572.23" y1="67.39" y2="73.04" stroke="#5f8f6e" stroke-width="0.5" opacity="0.55"/>
<rect x="570.98" y="69.22" width="2.5" height="3.71" fill="#5f8f6e"/>
<line x1="575.38" x2="575.38" y1="64.35" y2="72.27" stroke="#5f8f6e" stroke-width="0.5" opacity="0.55"/>
<rect x="574.13" y="68.61" width="2.5" height="1.00" fill="#5f8f6e"/>
<line x1="578.52" x2="578.52" y1="55.73" y2="69.53" stroke="#5f8f6e" stroke-width="0.5" opacity="0.55"/>
<rect x="577.27" y="57.20" width="2.5" height="11.79" fill="#5f8f6e"/>
<line x1="581.66" x2="581.66" y1="51.09" y2="58.32" stroke="#5f8f6e" stroke-width="0.5" opacity="0.55"/>
<rect x="580.41" y="52.22" width="2.5" height="4.98" fill="#5f8f6e"/>
<line x1="584.80" x2="584.80" y1="51.53" y2="58.05" stroke="#b5523f" stroke-width="0.5" opacity="0.55"/>
<rect x="583.55" y="52.22" width="2.5" height="5.28" fill="#b5523f"/>
<line x1="587.94" x2="587.94" y1="51.89" y2="59.79" stroke="#5f8f6e" stroke-width="0.5" opacity="0.55"/>
<rect x="586.69" y="54.00" width="2.5" height="3.50" fill="#5f8f6e"/>
<line x1="591.08" x2="591.08" y1="51.89" y2="58.71" stroke="#b5523f" stroke-width="0.5" opacity="0.55"/>
<rect x="589.83" y="54.00" width="2.5" height="2.40" fill="#b5523f"/>
<line x1="594.23" x2="594.23" y1="52.81" y2="61.56" stroke="#5f8f6e" stroke-width="0.5" opacity="0.55"/>
<rect x="592.98" y="55.41" width="2.5" height="1.00" fill="#5f8f6e"/>
<line x1="597.37" x2="597.37" y1="54.92" y2="64.42" stroke="#b5523f" stroke-width="0.5" opacity="0.55"/>
<rect x="596.12" y="55.42" width="2.5" height="2.97" fill="#b5523f"/>
<line x1="600.51" x2="600.51" y1="54.48" y2="62.18" stroke="#5f8f6e" stroke-width="0.5" opacity="0.55"/>
<rect x="599.26" y="56.09" width="2.5" height="2.31" fill="#5f8f6e"/>
<line x1="603.65" x2="603.65" y1="51.18" y2="58.43" stroke="#5f8f6e" stroke-width="0.5" opacity="0.55"/>
<rect x="602.40" y="52.72" width="2.5" height="3.37" fill="#5f8f6e"/>
<line x1="606.79" x2="606.79" y1="41.27" y2="54.33" stroke="#5f8f6e" stroke-width="0.5" opacity="0.55"/>
<rect x="605.54" y="42.40" width="2.5" height="10.32" fill="#5f8f6e"/>
<line x1="609.93" x2="609.93" y1="38.61" y2="44.45" stroke="#b5523f" stroke-width="0.5" opacity="0.55"/>
<rect x="608.68" y="42.40" width="2.5" height="1.03" fill="#b5523f"/>
<line x1="613.07" x2="613.07" y1="38.28" y2="44.92" stroke="#5f8f6e" stroke-width="0.5" opacity="0.55"/>
<rect x="611.82" y="40.43" width="2.5" height="2.99" fill="#5f8f6e"/>
<line x1="616.22" x2="616.22" y1="40.30" y2="49.21" stroke="#b5523f" stroke-width="0.5" opacity="0.55"/>
<rect x="614.97" y="40.43" width="2.5" height="6.33" fill="#b5523f"/>
<line x1="619.36" x2="619.36" y1="42.84" y2="49.88" stroke="#b5523f" stroke-width="0.5" opacity="0.55"/>
<rect x="618.11" y="46.61" width="2.5" height="1.00" fill="#b5523f"/>
<line x1="622.50" x2="622.50" y1="42.63" y2="50.83" stroke="#5f8f6e" stroke-width="0.5" opacity="0.55"/>
<rect x="621.25" y="43.15" width="2.5" height="4.32" fill="#5f8f6e"/>
<line x1="625.64" x2="625.64" y1="37.51" y2="43.42" stroke="#5f8f6e" stroke-width="0.5" opacity="0.55"/>
<rect x="624.39" y="39.74" width="2.5" height="3.41" fill="#5f8f6e"/>
<line x1="628.78" x2="628.78" y1="37.92" y2="41.79" stroke="#5f8f6e" stroke-width="0.5" opacity="0.55"/>
<rect x="627.53" y="38.85" width="2.5" height="1.00" fill="#5f8f6e"/>
<line x1="631.92" x2="631.92" y1="34.41" y2="39.58" stroke="#5f8f6e" stroke-width="0.5" opacity="0.55"/>
<rect x="630.67" y="36.44" width="2.5" height="2.53" fill="#5f8f6e"/>
<line x1="635.06" x2="635.06" y1="34.06" y2="38.88" stroke="#b5523f" stroke-width="0.5" opacity="0.55"/>
<rect x="633.81" y="36.44" width="2.5" height="1.97" fill="#b5523f"/>
<polyline points="261.23,239.76 264.37,239.26 267.51,238.44 270.65,237.38 273.79,236.72 276.93,235.75 280.08,234.95 283.22,234.04 286.36,232.81 289.50,231.05 292.64,229.64 295.78,228.55 298.92,227.39 302.07,225.98 305.21,224.52 308.35,222.43 311.49,220.53 314.63,218.15 317.77,216.31 320.91,213.94 324.06,209.60 327.20,205.55 330.34,201.39 333.48,195.06 336.62,190.42 339.76,184.26 342.90,176.30 346.05,167.62 349.19,162.92 352.33,158.93 355.47,156.97 358.61,154.23 361.75,152.48 364.90,151.28 368.04,149.70 371.18,148.48 374.32,147.49 377.46,146.67 380.60,146.63 383.74,146.71 386.89,146.86 390.03,146.89 393.17,146.82 396.31,146.36 399.45,144.91 402.59,142.91 405.74,141.30 408.88,139.95 412.02,139.04 415.16,137.98 418.30,137.37 421.44,136.90 424.58,135.93 427.73,135.21 430.87,135.02 434.01,134.34 437.15,133.51 440.29,132.81 443.43,131.69 446.57,130.59 449.72,129.73 452.86,128.37 456.00,126.07 459.14,122.52 462.28,118.87 465.42,114.23 468.56,108.89 471.71,104.57 474.85,102.58 477.99,100.95 481.13,98.97 484.27,96.77 487.41,95.01 490.56,92.32 493.70,90.17 496.84,88.82 499.98,87.98 503.12,86.96 506.26,85.88 509.40,85.27 512.55,84.98 515.69,85.28 518.83,85.40 521.97,85.69 525.11,85.99 528.25,86.23 531.39,86.64 534.54,87.07 537.68,87.13 540.82,87.20 543.96,86.98 547.10,86.74 550.24,86.61 553.39,86.32 556.53,86.10 559.67,86.06 562.81,85.97 565.95,85.50 569.09,84.91 572.23,84.13 575.38,83.38 578.52,81.84 581.66,80.00 584.80,78.75 587.94,77.33 591.08,76.20 594.23,75.08 597.37,74.23 600.51,73.29 603.65,72.19 606.79,70.33 609.93,68.73 613.07,67.01 616.22,65.92 619.36,64.96 622.50,63.77 625.64,62.40 628.78,61.08 631.92,59.67 635.06,58.51" fill="none" stroke="#dd6f63" stroke-width="0.7"/>
</g>
<g id="logo" transform="translate(6,436.2) scale(0.45)"><path fill="#f2f2f2" d="M14 22H7V11H0V4h14v18zM28 22h-8l7.5-18h8L28 22z"/><circle cx="20" cy="8" r="4" fill="#f2f2f2"/></g>
<g id="labels">
<text x="5.4" y="11.4" font-size="6.8" fill="#ececec" font-weight="normal" textLength="207.20" lengthAdjust="spacingAndGlyphs">bitcoinwallah created with TradingView.com, Aug 31, 2025 06:41 UTC</text>
<text x="9.7" y="24.2" font-size="6.25" fill="#3b3531" font-weight="normal" textLength="55.00" lengthAdjust="spacingAndGlyphs">Bitcoin / U.S. Dollar</text>
<text x="67.8" y="24.2" font-size="6.25" fill="#3b3531" font-weight="normal" textLength="14.50" lengthAdjust="spacingAndGlyphs">· 1M ·</text>
<text x="86" y="24.2" font-size="6.25" fill="#3b3531" font-weight="normal" textLength="30.00" lengthAdjust="spacingAndGlyphs">BITSTAMP</text>
<text x="121" y="24.2" font-size="6.25" fill="#3b3531" font-weight="normal" textLength="27.30" lengthAdjust="spacingAndGlyphs">O115,749</text>
<text x="152.5" y="24.2" font-size="6.25" fill="#3b3531" font-weight="normal" textLength="26.30" lengthAdjust="spacingAndGlyphs">H124,517</text>
<text x="183.8" y="24.2" font-size="6.25" fill="#3b3531" font-weight="normal" textLength="26.20" lengthAdjust="spacingAndGlyphs">L107,380</text>
<text x="214.5" y="24.2" font-size="6.25" fill="#3b3531" font-weight="normal" textLength="27.30" lengthAdjust="spacingAndGlyphs">C108,969</text>
<text x="247" y="24.2" font-size="6.25" fill="#3b3531" font-weight="normal" textLength="48.50" lengthAdjust="spacingAndGlyphs">−6,781 (−5.86%)</text>
<text x="9.6" y="33.8" font-size="6.25" fill="#3b3531" font-weight="normal" textLength="46.20" lengthAdjust="spacingAndGlyphs">EMA (50, close)</text>
<text x="61" y="33.8" font-size="6.25" fill="#ee7f7f" font-weight="normal" textLength="20.20" lengthAdjust="spacingAndGlyphs">59,708</text>
<text x="9.6" y="43.2" font-size="6.25" fill="#3b3531" font-weight="normal" textLength="51.20" lengthAdjust="spacingAndGlyphs">EMA (200, close)</text>
<text x="9.6" y="51.8" font-size="6.25" fill="#3b3531" font-weight="normal" textLength="24.70" lengthAdjust="spacingAndGlyphs">Vol · BTC</text>
<text x="41" y="51.8" font-size="6.25" fill="#ee7f7f" font-weight="normal" textLength="21.50" lengthAdjust="spacingAndGlyphs">47.03 K</text>
<text x="764.4" y="67.4" font-size="6.45" fill="#776d66" font-weight="normal" textLength="19.72" lengthAdjust="spacingAndGlyphs">46,000</text>
<text x="764.4" y="82.9" font-size="6.45" fill="#776d66" font-weight="normal" textLength="19.72" lengthAdjust="spacingAndGlyphs">28,000</text>
<text x="764.4" y="99.4" font-size="6.45" fill="#776d66" font-weight="normal" textLength="19.72" lengthAdjust="spacingAndGlyphs">18,000</text>
<text x="764.4" y="115.9" font-size="6.45" fill="#776d66" font-weight="normal" textLength="19.72" lengthAdjust="spacingAndGlyphs">11,000</text>
<text x="764.4" y="132.9" font-size="6.45" fill="#776d66" font-weight="normal" textLength="16.14" lengthAdjust="spacingAndGlyphs">6,500</text>
<text x="764.4" y="148.9" font-size="6.45" fill="#776d66" font-weight="normal" textLength="16.14" lengthAdjust="spacingAndGlyphs">4,000</text>
<text x="764.4" y="165.4" font-size="6.45" fill="#776d66" font-weight="normal" textLength="16.14" lengthAdjust="spacingAndGlyphs">2,400</text>
<text x="764.4" y="181.4" font-size="6.45" fill="#776d66" font-weight="normal" textLength="16.14" lengthAdjust="spacingAndGlyphs">1,500</text>
<text x="764.4" y="197.9" font-size="6.45" fill="#776d66" font-weight="normal" textLength="10.76" lengthAdjust="spacingAndGlyphs">900</text>
<text x="764.4" y="213.9" font-size="6.45" fill="#776d66" font-weight="normal" textLength="10.76" lengthAdjust="spacingAndGlyphs">540</text>
<text x="764.4" y="230.4" font-size="6.45" fill="#776d66" font-weight="normal" textLength="10.76" lengthAdjust="spacingAndGlyphs">320</text>
<text x="764.4" y="246.9" font-size="6.45" fill="#776d66" font-weight="normal" textLength="10.76" lengthAdjust="spacingAndGlyphs">200</text>
<text x="764.4" y="263.4" font-size="6.45" fill="#776d66" font-weight="normal" textLength="10.76" lengthAdjust="spacingAndGlyphs">120</text>
<text x="764.4" y="278.4" font-size="6.45" fill="#776d66" font-weight="normal" textLength="7.17" lengthAdjust="spacingAndGlyphs">75</text>
<text x="764.4" y="294.4" font-size="6.45" fill="#776d66" font-weight="normal" textLength="7.17" lengthAdjust="spacingAndGlyphs">47</text>
<text x="764.4" y="310.9" font-size="6.45" fill="#776d66" font-weight="normal" textLength="7.17" lengthAdjust="spacingAndGlyphs">29</text>
<text x="764.4" y="327.4" font-size="6.45" fill="#776d66" font-weight="normal" textLength="7.17" lengthAdjust="spacingAndGlyphs">17</text>
<text x="764.4" y="343.9" font-size="6.45" fill="#776d66" font-weight="normal" textLength="7.17" lengthAdjust="spacingAndGlyphs">10</text>
<text x="764.4" y="361.4" font-size="6.45" fill="#776d66" font-weight="normal" textLength="3.59" lengthAdjust="spacingAndGlyphs">6</text>
<text x="764.4" y="383.4" font-size="6.45" fill="#776d66" font-weight="normal" textLength="3.59" lengthAdjust="spacingAndGlyphs">2</text>
<text x="116.0" y="421.4" font-size="6.6" fill="#776d66" font-weight="normal" textLength="14.80" lengthAdjust="spacingAndGlyphs">2012</text>
<text x="153.66" y="421.4" font-size="6.6" fill="#776d66" font-weight="normal" textLength="14.80" lengthAdjust="spacingAndGlyphs">2013</text>
<text x="191.32" y="421.4" font-size="6.6" fill="#776d66" font-weight="normal" textLength="14.80" lengthAdjust="spacingAndGlyphs">2014</text>
<text x="228.98" y="421.4" font-size="6.6" fill="#776d66" font-weight="normal" textLength="14.80" lengthAdjust="spacingAndGlyphs">2015</text>
<text x="266.64" y="421.4" font-size="6.6" fill="#776d66" font-weight="normal" textLength="14.80" lengthAdjust="spacingAndGlyphs">2016</text>
<text x="304.3" y="421.4" font-size="6.6" fill="#776d66" font-weight="normal" textLength="14.80" lengthAdjust="spacingAndGlyphs">2017</text>
<text x="341.96000000000004" y="421.4" font-size="6.6" fill="#776d66" font-weight="normal" textLength="14.80" lengthAdjust="spacingAndGlyphs">2018</text>
<text x="379.62" y="421.4" font-size="6.6" fill="#776d66" font-weight="normal" textLength="14.80" lengthAdjust="spacingAndGlyphs">2019</text>
<text x="417.28" y="421.4" font-size="6.6" fill="#776d66" font-weight="normal" textLength="14.80" lengthAdjust="spacingAndGlyphs">2020</text>
<text x="454.93999999999994" y="421.4" font-size="6.6" fill="#776d66" font-weight="normal" textLength="14.80" lengthAdjust="spacingAndGlyphs">2021</text>
<text x="492.6" y="421.4" font-size="6.6" fill="#776d66" font-weight="normal" textLength="14.80" lengthAdjust="spacingAndGlyphs">2022</text>
<text x="530.26" y="421.4" font-size="6.6" fill="#776d66" font-weight="normal" textLength="14.80" lengthAdjust="spacingAndGlyphs">2023</text>
<text x="567.92" y="421.4" font-size="6.6" fill="#776d66" font-weight="normal" textLength="14.80" lengthAdjust="spacingAndGlyphs">2024</text>
<text x="605.5799999999999" y="421.4" font-size="6.6" fill="#776d66" font-weight="normal" textLength="14.80" lengthAdjust="spacingAndGlyphs">2025</text>
<text x="643.24" y="421.4" font-size="6.6" fill="#776d66" font-weight="normal" textLength="14.80" lengthAdjust="spacingAndGlyphs">2026</text>
<text x="680.9" y="421.4" font-size="6.6" fill="#776d66" font-weight="normal" textLength="14.80" lengthAdjust="spacingAndGlyphs">2027</text>
<text x="718.56" y="421.4" font-size="6.6" fill="#776d66" font-weight="normal" textLength="14.80" lengthAdjust="spacingAndGlyphs">2028</text>
<text x="767" y="24.8" font-size="6.3" fill="#2a2623" font-weight="normal" textLength="13.30" lengthAdjust="spacingAndGlyphs">USD</text>
<text x="735.5" y="40.6" font-size="5.6" fill="#fbd9cf" font-weight="normal" textLength="23.00" lengthAdjust="spacingAndGlyphs">BTCUSD</text>
<text x="765.5" y="40.7" font-size="6.6" fill="#fdeae3" font-weight="normal" textLength="24.00" lengthAdjust="spacingAndGlyphs">108,969</text>
<text x="767" y="46.8" font-size="5.4" fill="#f9cfc3" font-weight="normal" textLength="21.00" lengthAdjust="spacingAndGlyphs">17:18:32</text>
<text x="26.7" y="445.8" font-size="11.2" fill="#f2f2f2" font-weight="bold" textLength="63.30" lengthAdjust="spacingAndGlyphs">TradingView</text>
</g>
</svg>
</body></html>
